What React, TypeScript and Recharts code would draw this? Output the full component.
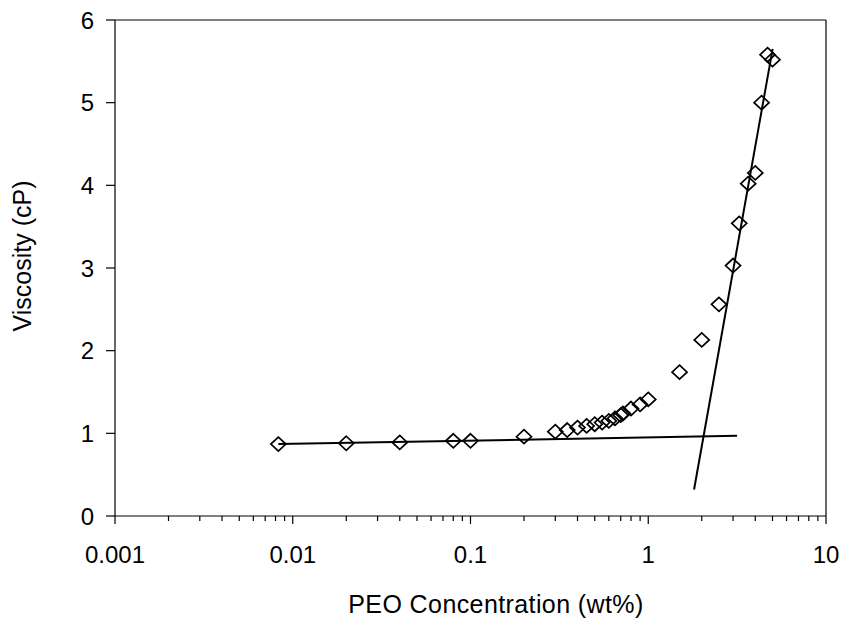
import React from "react";
import { ReferenceLine, Scatter, ScatterChart, XAxis, YAxis } from "recharts";

// PEO concentration (wt%) vs viscosity (cP)
const concentration = [
  0.0083, 0.02, 0.04, 0.08, 0.1, 0.2, 0.3, 0.35, 0.4, 0.45, 0.5, 0.55, 0.6, 0.65,
  0.7, 0.72, 0.8, 0.9, 1.0, 1.5, 2.0, 2.5, 3.0, 3.25, 3.65, 4.0, 4.34, 4.69, 5.0,
];
const viscosity = [
  0.87, 0.88, 0.89, 0.91, 0.91, 0.96, 1.02, 1.04, 1.07, 1.09, 1.11, 1.13, 1.15, 1.18,
  1.22, 1.24, 1.3, 1.35, 1.41, 1.74, 2.13, 2.56, 3.03, 3.54, 4.02, 4.15, 5.0, 5.58, 5.52,
];

// fitted lines (endpoints)
const dilutePlateauX = [0.0083, 3.16];
const dilutePlateauY = [0.87, 0.97];
const semiDiluteX = [1.81, 5.01];
const semiDiluteY = [0.32, 5.65];

const majorTicks = [0.001, 0.01, 0.1, 1, 10];
const minorSteps = [2, 3, 4, 5, 6, 7, 8, 9];
const yTicks = [0, 1, 2, 3, 4, 5, 6];

const font = '"Liberation Sans", Arial, Helvetica, sans-serif';

const toPoints = (xs: number[], ys: number[]) => xs.map((x, i) => ({ x, y: ys[i] }));

const points = toPoints(concentration, viscosity);
const plateau = toPoints(dilutePlateauX, dilutePlateauY);
const steep = toPoints(semiDiluteX, semiDiluteY);

const xTicks = [
  ...majorTicks,
  ...majorTicks.slice(0, -1).flatMap((d) => minorSteps.map((m) => +(d * m).toPrecision(3))),
].sort((a, b) => a - b);

const Diamond = (props: any) => {
  const { cx, cy } = props;
  if (cx == null || cy == null) return <g />;
  return (
    <path
      d={`M${cx},${cy - 7} L${cx + 7.5},${cy} L${cx},${cy + 7} L${cx - 7.5},${cy} Z`}
      fill="none"
      stroke="#000"
      strokeWidth={1.7}
    />
  );
};

const XTick = (props: any) => {
  const { x, y, payload } = props;
  const v = payload.value;
  const major = majorTicks.includes(v);
  return (
    <g>
      <line x1={x} x2={x} y1={y} y2={y + (major ? 8 : 5)} stroke="#000" strokeWidth={1.2} />
      {major && (
        <text x={x} y={y + 47} textAnchor="middle" fontSize={24} fontFamily={font} fill="#000">
          {String(v)}
        </text>
      )}
    </g>
  );
};

export default function App() {
  return (
    <div style={{ position: "absolute", left: 0, top: 0, width: 846, height: 621, background: "#fff" }}>
      <ScatterChart width={846} height={621} margin={{ top: 20, right: 20, bottom: 0, left: 0 }}>
        <XAxis
          type="number"
          dataKey="x"
          scale="log"
          domain={[0.001, 10]}
          ticks={xTicks}
          interval={0}
          height={105}
          tickSize={0}
          tickMargin={0}
          tickLine={false}
          axisLine={{ stroke: "#000", strokeWidth: 1.2 }}
          tick={<XTick />}
          allowDataOverflow
          label={{
            value: "PEO Concentration (wt%)",
            content: () => (
              <text
                x={496}
                y={613}
                textAnchor="middle"
                fontSize={25}
                letterSpacing={0.4}
                fontFamily={font}
                fill="#000"
              >
                PEO Concentration (wt%)
              </text>
            ),
          }}
        />
        <YAxis
          type="number"
          dataKey="y"
          domain={[0, 6]}
          ticks={yTicks}
          interval={0}
          width={115}
          tickSize={9}
          tickMargin={12}
          tickLine={{ stroke: "#000", strokeWidth: 1.2 }}
          axisLine={{ stroke: "#000", strokeWidth: 1.2 }}
          tick={{ fontSize: 24, fill: "#000", fontFamily: font }}
          label={{
            value: "Viscosity (cP)",
            content: () => (
              <text
                x={31}
                y={256}
                transform="rotate(-90, 31, 256)"
                textAnchor="middle"
                fontSize={25}
                fontFamily={font}
                fill="#000"
              >
                Viscosity (cP)
              </text>
            ),
          }}
        />
        <ReferenceLine y={6} stroke="#000" strokeWidth={1.2} />
        <ReferenceLine x={10} stroke="#000" strokeWidth={1.2} />
        <Scatter
          data={plateau}
          line={{ stroke: "#000", strokeWidth: 2 }}
          shape={() => <g />}
          isAnimationActive={false}
        />
        <Scatter
          data={steep}
          line={{ stroke: "#000", strokeWidth: 2 }}
          shape={() => <g />}
          isAnimationActive={false}
        />
        <Scatter data={points} shape={<Diamond />} isAnimationActive={false} />
      </ScatterChart>
    </div>
  );
}
